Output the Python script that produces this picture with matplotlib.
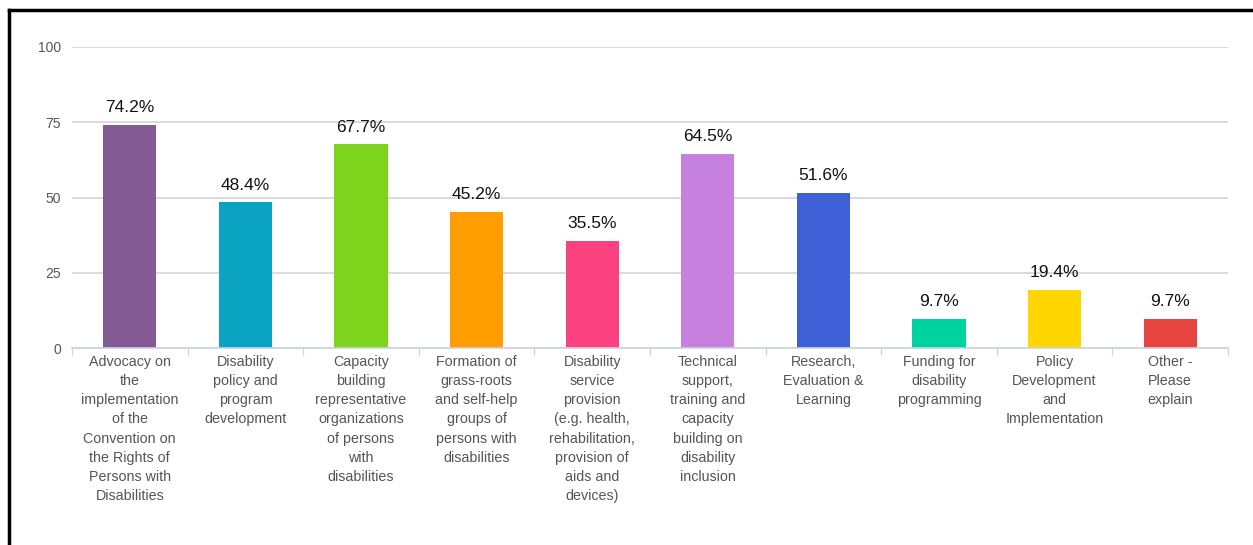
import matplotlib
matplotlib.use("Agg")
import matplotlib.pyplot as plt
from matplotlib.lines import Line2D
import numpy as np

categories = [
    "Advocacy on\nthe\nimplementation\nof the\nConvention on\nthe Rights of\nPersons with\nDisabilities",
    "Disability\npolicy and\nprogram\ndevelopment",
    "Capacity\nbuilding\nrepresentative\norganizations\nof persons\nwith\ndisabilities",
    "Formation of\ngrass-roots\nand self-help\ngroups of\npersons with\ndisabilities",
    "Disability\nservice\nprovision\n(e.g. health,\nrehabilitation,\nprovision of\naids and\ndevices)",
    "Technical\nsupport,\ntraining and\ncapacity\nbuilding on\ndisability\ninclusion",
    "Research,\nEvaluation &\nLearning",
    "Funding for\ndisability\nprogramming",
    "Policy\nDevelopment\nand\nImplementation",
    "Other -\nPlease\nexplain",
]
values = [74.2, 48.4, 67.7, 45.2, 35.5, 64.5, 51.6, 9.7, 19.4, 9.7]
colors = ["#845A94", "#0AA3C2", "#7ED31C", "#FF9E00", "#FA4280",
          "#C681DF", "#3F5FD6", "#00D2A0", "#FFD600", "#E8443F"]
yticks = [0, 25, 50, 75, 100]

plt.rcParams['font.family'] = ['Liberation Sans', 'DejaVu Sans']

fig = plt.figure(figsize=(12.53, 5.45), dpi=100)
W, H = 1253, 545
ax = fig.add_axes([72 / W, 1 - 348 / H, (1228 - 72) / W, (348 - 47) / H])

x = np.arange(len(values))
ax.bar(x, values, width=0.46, color=colors, zorder=3)
ax.set_xlim(-0.5, len(values) - 0.5)
ax.set_ylim(0, 100)

for xi, v in zip(x, values):
    ax.annotate(f"{v}%", (xi, v), xytext=(0, 7), textcoords="offset points",
                ha="center", va="bottom", fontsize=12.5, color="#111111", zorder=4)

ax.set_yticks(yticks)
ax.set_yticklabels([str(t) for t in yticks], fontsize=10, color="#555555")
ax.tick_params(axis="y", length=0, pad=8)
ax.yaxis.grid(True, color="#d4d4d4", linewidth=1.2, zorder=0)
ax.set_axisbelow(True)

ax.set_xticks(x)
ax.set_xticklabels(categories, fontsize=10.3, color="#555555", linespacing=1.47, va="top")
ax.tick_params(axis="x", length=0, pad=5)
ax.set_xticks(np.arange(-0.5, len(values), 1.0), minor=True)
ax.tick_params(axis="x", which="minor", length=5, color="#c8d4e2", width=1)

for s in ["top", "right", "left"]:
    ax.spines[s].set_visible(False)
ax.spines["bottom"].set_color("#c8d4e2")
ax.spines["bottom"].set_linewidth(1.2)
ax.spines["bottom"].set_zorder(4)

# black frame (left and top)
fig.add_artist(Line2D([9 / W, 9 / W], [0, 1 - 10 / H], transform=fig.transFigure, color="black", linewidth=2.5))
fig.add_artist(Line2D([9 / W, 1], [1 - 10 / H, 1 - 10 / H], transform=fig.transFigure, color="black", linewidth=2.5))

fig.savefig("out.png", dpi=100)
